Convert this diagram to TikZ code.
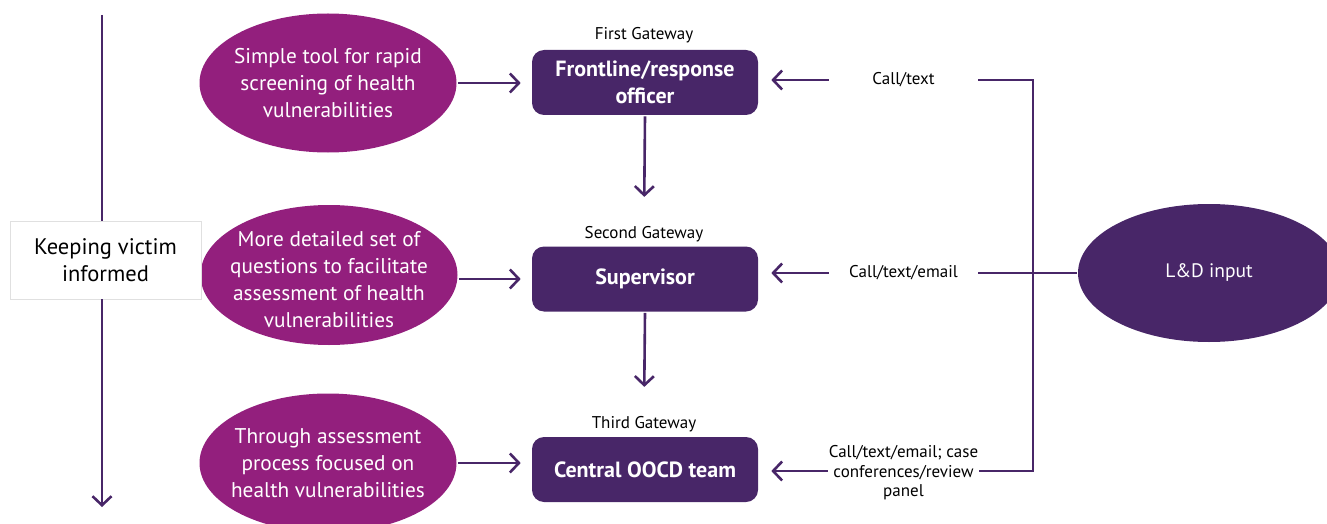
\documentclass[tikz,border=0pt]{standalone}
\usepackage{fontspec}
\setmainfont{PT Sans}
\usetikzlibrary{arrows.meta,shapes.geometric}
\definecolor{dpurple}{RGB}{72,38,104}
\definecolor{mypink}{RGB}{147,31,125}
\begin{document}
\begin{tikzpicture}[x=1pt,y=-1pt,
  line width=2.6pt,
  arr/.style={draw=dpurple,-{Straight Barb[length=9pt,width=19pt]}},
  ln/.style={draw=dpurple},
  ell/.style={ellipse,fill=mypink,text=white,minimum width=257,minimum height=139,inner xsep=-40pt,inner ysep=-25pt,align=center,font=\fontsize{21.3}{27}\selectfont},
  elltext/.style={text=white,inner sep=0pt,align=center,font=\fontsize{21.3}{27}\selectfont},
  gate/.style={rounded corners=12pt,fill=dpurple,text=white,minimum width=226,minimum height=65,inner sep=0pt,align=center,font=\bfseries\fontsize{22}{27}\selectfont},
  gwlab/.style={font=\fontsize{17}{18}\selectfont,inner sep=0pt},
  chan/.style={font=\fontsize{17}{19.5}\selectfont,minimum width=147,inner sep=0pt,align=center}
]
\useasboundingbox (0,0) rectangle (1327,524);
\clip (0,0) rectangle (1327,524);

% ellipses
\node[ell] (e1) at (328,83) {Simple tool for rapid\\screening of health\\vulnerabilities};
\node[ell,minimum height=140] (e2) at (329,275) {};
\node[elltext] (t2) at (329,280) {More detailed set of\\questions to facilitate\\assessment of health\\vulnerabilities};
\node[ell] (e3) at (328,463) {Through assessment\\process focused on\\health vulnerabilities};

% gateway boxes
\node[gate] (b1) at (645,82.5) {Frontline/response\\officer};
\node[gate] (b2) at (645,279) {Supervisor};
\node[gate] (b3) at (645,469.5) {Central OOCD team};

\node[gwlab] (g1) at (644,35) {First Gateway};
\node[gwlab] (g2) at (644,234) {Second Gateway};
\node[gwlab] (g3) at (644,424) {Third Gateway};

% keeping victim informed
\node[draw=black!12,line width=0.8pt,fill=white,minimum width=191,minimum height=78,inner sep=0pt,align=center,font=\fontsize{22.5}{27}\selectfont] (keep) at (105.5,260) {Keeping victim\\informed};
\coordinate (ktop) at (102,15);
\coordinate (kbot) at (102,507);
\draw[ln] (ktop) -- (keep.north -| ktop);
\draw[arr] (keep.south -| ktop) -- (kbot);

% L&D
\node[ellipse,fill=dpurple,text=white,minimum width=262,minimum height=138,inner sep=0pt,font=\fontsize{19.5}{27}\selectfont] (ld) at (1209,273) {L\&D input};

% channel labels
\node[chan] (c1) at (903.5,80) {Call/text};
\node[chan] (c2) at (903.5,273) {Call/text/email};
\node[chan] (c3) at (903.5,473) {Call/text/email; case\\conferences/review\\panel};

\coordinate (j1) at (1033,80);
\coordinate (j3) at (1033,471);

% arrows ellipse -> box
\draw[arr,shorten >=10pt] (e1.east) -- (e1.east -| b1.west);
\draw[arr,shorten >=10pt] (e2.east |- b2) -- (b2.west);
\draw[arr,shorten >=10pt] (e3.east) -- (e3.east -| b3.west);

% box -> box
\draw[arr,shorten >=28pt] (b1.south) -- (g2.north);
\draw[arr,shorten >=28pt] (b2.south) -- (g3.north);

% channels
\draw[arr,shorten >=12pt] (c1.west) -- (c1.west -| b1.east);
\draw[arr,shorten >=12pt] (c2.west) -- (c2.west -| b2.east);
\draw[arr,shorten >=12pt] (c3.west |- j3) -- (j3 -| b3.east);
\draw[ln] (c1.east) -- (j1) -- (j3) -- (j3 -| c3.east);
\draw[ln] (c2.east) -- (ld.west);
\end{tikzpicture}
\end{document}
